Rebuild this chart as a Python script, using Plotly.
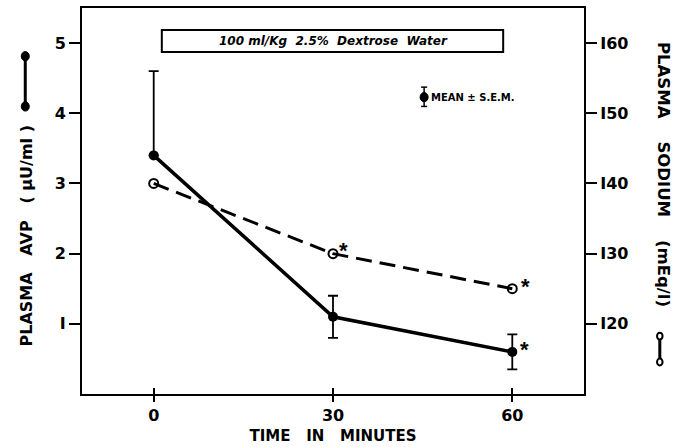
import plotly.graph_objects as go

time_min = [0, 30, 60]
avp_mean = [3.4, 1.1, 0.6]
avp_sem_up = [1.2, 0.3, 0.25]
avp_sem_down = [0.0, 0.3, 0.25]
sodium_mean = [140, 130, 125]
x_ticks = [0, 30, 60]
left_ticks = [1, 2, 3, 4, 5]
left_labels = ["I", "2", "3", "4", "5"]
right_ticks = [120, 130, 140, 150, 160]
right_labels = ["I20", "I30", "I40", "I50", "I60"]

FONT = "DejaVu Sans"
AFONT = "Liberation Sans"
fig = go.Figure()

fig.add_trace(go.Scatter(
    x=time_min, y=sodium_mean, yaxis="y2", mode="lines+markers",
    line=dict(color="black", width=3, dash="16px,8px"),
    marker=dict(symbol="circle-open", size=9, color="black", line=dict(width=2)),
    showlegend=False, cliponaxis=False))

fig.add_trace(go.Scatter(
    x=time_min, y=avp_mean, mode="lines+markers",
    line=dict(color="black", width=3.5),
    marker=dict(symbol="circle", size=10, color="black"),
    error_y=dict(type="data", symmetric=False, array=avp_sem_up, arrayminus=avp_sem_down,
                 color="black", thickness=1.8, width=5),
    showlegend=False, cliponaxis=False))

# helper trace for inner x ticks
fig.add_trace(go.Scatter(x=time_min, y=avp_mean, xaxis="x2", mode="markers",
                         marker=dict(opacity=0), showlegend=False, hoverinfo="skip"))

tickfont = dict(size=16, family=FONT, weight="bold")
fig.update_layout(
    width=686, height=447,
    margin=dict(l=82, r=102, t=8, b=53),
    paper_bgcolor="white", plot_bgcolor="white",
    font=dict(family=FONT, color="black"),
    xaxis=dict(range=[-12, 72], tickvals=x_ticks, ticktext=["0", "30", "60"],
               ticks="outside", ticklen=6, tickwidth=2, tickcolor="black",
               showline=True, linewidth=2, linecolor="black", mirror=True,
               showgrid=False, zeroline=False, automargin=False,
               tickfont=tickfont,
               title=dict(text="TIME   IN   MINUTES", font=dict(size=15, family=FONT, weight="bold"), standoff=6)),
    xaxis2=dict(range=[-12, 72], overlaying="x", tickvals=x_ticks, showticklabels=False,
                ticks="inside", ticklen=6, tickwidth=2, tickcolor="black",
                showgrid=False, zeroline=False, showline=False, side="bottom"),
    yaxis=dict(range=[0, 5.5], tickvals=left_ticks, ticktext=left_labels,
               ticks="outside", ticklen=11, tickwidth=2, tickcolor="black",
               showline=True, linewidth=2, linecolor="black",
               showgrid=False, zeroline=False, automargin=False,
               tickfont=tickfont),
    yaxis2=dict(range=[110, 165], overlaying="y", side="right",
                tickvals=right_ticks, ticktext=right_labels,
                ticks="outside", ticklen=11, tickwidth=2, tickcolor="black",
                showline=True, linewidth=2, linecolor="black",
                showgrid=False, zeroline=False, automargin=False,
                tickfont=tickfont),
)

annotations = [
    dict(text="PLASMA   AVP   ( μU/ml )", x=-0.11, xref="paper", xanchor="center",
         y=0.41, yref="paper", yanchor="middle",
         textangle=-90, showarrow=False, font=dict(size=16, family=FONT, weight="bold")),
    dict(text="PLASMA    SODIUM    (mEq/l)", x=1, xref="paper", xanchor="center",
         y=0.57, yref="paper", yanchor="middle",
         textangle=90, showarrow=False, font=dict(size=16.5, family=FONT, weight="bold"), xshift=79),
    dict(text="<i>100 ml/Kg  2.5%  Dextrose  Water</i>", x=0.5, xref="paper", xanchor="center",
         y=0.9145, yref="paper", yanchor="middle",
         showarrow=False, font=dict(size=12, family=FONT, weight="bold")),
    dict(text="MEAN ± S.E.M.", x=0.692, xref="paper", xanchor="left",
         y=0.769, yref="paper", yanchor="middle",
         showarrow=False, font=dict(size=10, family=FONT, weight="bold")),
    dict(text="*", x=time_min[1], y=sodium_mean[1], xref="x", yref="y2", showarrow=False,
         xshift=10, yshift=3, font=dict(size=22, family=AFONT, weight="bold")),
    dict(text="*", x=time_min[2], y=sodium_mean[2], xref="x", yref="y2", showarrow=False,
         xshift=13, yshift=2, font=dict(size=22, family=AFONT, weight="bold")),
    dict(text="*", x=time_min[2], y=avp_mean[2], xref="x", yref="y", showarrow=False,
         xshift=12, yshift=2, font=dict(size=22, family=AFONT, weight="bold")),
]
fig.update_layout(annotations=annotations)

shapes = [
    dict(type="rect", xref="paper", yref="paper", x0=0.159, x1=0.839, y0=0.886, y1=0.943,
         line=dict(color="black", width=2), fillcolor="white", layer="below"),
    # legend key: mean +/- sem
    dict(type="line", xref="paper", yref="paper", x0=0.6815, x1=0.6815, y0=0.745, y1=0.795,
         line=dict(color="black", width=1.5)),
    dict(type="line", xref="paper", yref="paper", x0=0.6755, x1=0.6875, y0=0.795, y1=0.795,
         line=dict(color="black", width=1.5)),
    dict(type="line", xref="paper", yref="paper", x0=0.6755, x1=0.6875, y0=0.745, y1=0.745,
         line=dict(color="black", width=1.5)),
    dict(type="circle", xref="paper", yref="paper", x0=0.6735, x1=0.6895, y0=0.757, y1=0.781,
         line=dict(color="black", width=1), fillcolor="black"),
    # left title key: solid line with filled dots
    dict(type="line", xref="paper", yref="paper", x0=-0.113, x1=-0.113, y0=0.745, y1=0.875,
         line=dict(color="black", width=3)),
    dict(type="circle", xref="paper", yref="paper", x0=-0.121, x1=-0.105, y0=0.733, y1=0.757,
         line=dict(color="black", width=1), fillcolor="black"),
    dict(type="circle", xref="paper", yref="paper", x0=-0.121, x1=-0.105, y0=0.863, y1=0.887,
         line=dict(color="black", width=1), fillcolor="black"),
    # right title key: line with open dots
    dict(type="line", xref="paper", yref="paper", x0=1.151, x1=1.151, y0=0.09, y1=0.15,
         line=dict(color="black", width=3)),
    dict(type="circle", xref="paper", yref="paper", x0=1.1455, x1=1.1565, y0=0.141, y1=0.159,
         line=dict(color="black", width=2), fillcolor="white"),
    dict(type="circle", xref="paper", yref="paper", x0=1.1455, x1=1.1565, y0=0.074, y1=0.092,
         line=dict(color="black", width=2), fillcolor="white"),
]
fig.update_layout(shapes=shapes)

fig.write_html("out.html", config={"displayModeBar": False},
               post_script="document.body.style.margin='0';")
